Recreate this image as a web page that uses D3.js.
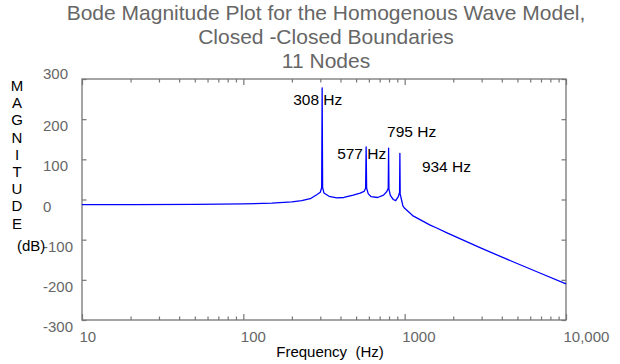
<!DOCTYPE html>
<html>
<head>
<meta charset="utf-8">
<script src="https://cdn.jsdelivr.net/npm/d3@7"></script>
<style>
  body { margin: 0; background: #fff; }
  text { font-family: "Liberation Sans", Arial, sans-serif; }
</style>
</head>
<body>
<svg id="chart"></svg>
<script>
// frequency response (Hz, dB)
const freqHz = [10, 20, 50, 100, 150, 200, 230, 260, 285, 300, 306, 308, 310, 316,
  340, 380, 420, 480, 530, 560, 573, 577, 581, 595, 620, 680, 740, 775, 791, 795, 799,
  815, 850, 880, 915, 930, 934, 938, 955, 975, 1000, 1120, 1430, 1580, 1830, 2930, 4690, 6890, 10000]
const magDb = [-13, -13, -12, -11, -9, -6, -3, 2, 12, 18, 30, 278, 30, 16,
  8, 4, 5, 11, 16, 20, 28, 131, 28, 14, 7, 5, 11, 20, 28, 128, 26,
  10, 0, -3, 8, 18, 115, 14, 0, -16, -22, -40, -63, -71, -83, -120, -155, -183, -210]

const peakFreqs = [308, 577, 795, 934]
const peakLabels = ['308 Hz', '577 Hz', '795 Hz', '934 Hz']

const xTicks = [10, 100, 1000, 10000]
const xTickLabels = ['10', '100', '1000', '10,000']
const yTicks = [300, 200, 100, 0, -100, -200, -300]

const titleLines = ['Bode Magnitude Plot for the Homogenous Wave Model,', 'Closed -Closed Boundaries', '11 Nodes']
const yLetters = 'MAGNITUDE'.split('')

const width = 620, height = 364
const margin = {top: 79, right: 54, bottom: 44, left: 82}

const svg = d3.select('#chart')
    .attr('width', width)
    .attr('height', height)

const x = d3.scaleLog()
    .domain([10, 10000])
    .range([margin.left, width - margin.right])

const y = d3.scaleLinear()
    .domain([-300, 300])
    .range([height - margin.bottom, margin.top])

const frameColor = '#767676'
const labelColor = '#666666'

// frame
svg.append('rect')
    .attr('x', x(10))
    .attr('y', y(300))
    .attr('width', x(10000) - x(10))
    .attr('height', y(-300) - y(300))
    .attr('fill', 'none')
    .attr('stroke', frameColor)
    .attr('stroke-width', 1.3)

// minor log ticks (top and bottom), all inside
const minorTicks = []
for (let dec = 10; dec < 10000; dec *= 10) {
    for (let k = 2; k <= 9; k++) minorTicks.push(dec * k)
}

function styleAxis(g) {
    g.select('.domain').remove()
    g.selectAll('.tick line').attr('stroke', frameColor).attr('stroke-width', 1.2)
}

svg.append('g')
    .attr('transform', `translate(0,${y(300)})`)
    .call(d3.axisTop(x).tickValues(minorTicks).tickSize(-3.5).tickFormat(''))
    .call(styleAxis)
svg.append('g')
    .attr('transform', `translate(0,${y(300)})`)
    .call(d3.axisTop(x).tickValues(xTicks).tickSize(-6).tickFormat(''))
    .call(styleAxis)
svg.append('g')
    .attr('transform', `translate(0,${y(-300)})`)
    .call(d3.axisBottom(x).tickValues(minorTicks).tickSize(-3.5).tickFormat(''))
    .call(styleAxis)

const xAxisG = svg.append('g')
    .attr('transform', `translate(0,${y(-300)})`)
    .call(d3.axisBottom(x).tickValues(xTicks).tickSize(-6).tickFormat((d, i) => xTickLabels[i]))
    .call(styleAxis)
xAxisG.selectAll('text')
    .attr('x', -3)
    .attr('y', 22)
    .attr('dy', 0)
    .attr('text-anchor', 'start')
    .attr('fill', labelColor)
    .style('font-size', '15px')
    .style('font-family', '"Liberation Sans", Arial, sans-serif')

// y axis, ticks inside; labels sit oddly below their ticks like the original
const yAxisG = svg.append('g')
    .attr('transform', `translate(${x(10)},0)`)
    .call(d3.axisLeft(y).tickValues(yTicks).tickSize(-4.5).tickFormat(d => String(d)))
    .call(styleAxis)
yAxisG.selectAll('text')
    .attr('x', 43 - x(10))
    .attr('dy', d => d === 300 ? -1 : 11.5)
    .attr('text-anchor', 'start')
    .attr('fill', labelColor)
    .style('font-size', '15px')
    .style('font-family', '"Liberation Sans", Arial, sans-serif')

svg.append('g')
    .attr('transform', `translate(${x(10000)},0)`)
    .call(d3.axisRight(y).tickValues(yTicks).tickSize(-4.5).tickFormat(''))
    .call(styleAxis)

// response curve
const points = freqHz.map((f, i) => [f, magDb[i]])
const line = d3.line()
    .x(d => x(d[0]))
    .y(d => y(d[1]))

svg.append('path')
    .datum(points)
    .attr('fill', 'none')
    .attr('stroke', '#0000ff')
    .attr('stroke-width', 1.3)
    .attr('stroke-linejoin', 'round')
    .attr('d', line)

// peak annotations
const labelOffsets = [[-29, 105], [-29, 159], [-1.5, 137], [22, 172]]
svg.selectAll('.peak-label')
    .data(peakFreqs)
    .join('text')
    .attr('class', 'peak-label')
    .attr('x', (d, i) => x(d) + labelOffsets[i][0])
    .attr('y', (d, i) => labelOffsets[i][1])
    .attr('fill', '#000')
    .style('font-size', '15.5px')
    .text((d, i) => peakLabels[i])

// title
svg.selectAll('.title')
    .data(titleLines)
    .join('text')
    .attr('class', 'title')
    .attr('x', 326)
    .attr('y', (d, i) => 20 + i * 24)
    .attr('text-anchor', 'middle')
    .attr('fill', labelColor)
    .style('font-size', '21px')
    .text(d => d)

// vertical axis title
svg.selectAll('.ylet')
    .data(yLetters)
    .join('text')
    .attr('class', 'ylet')
    .attr('x', 17)
    .attr('y', (d, i) => 91 + i * 17.2)
    .attr('text-anchor', 'middle')
    .attr('fill', '#000')
    .style('font-size', '15px')
    .text(d => d)

svg.append('text')
    .attr('x', 17)
    .attr('y', 250.5)
    .attr('fill', '#000')
    .style('font-size', '15px')
    .text('(dB)')

svg.append('text')
    .attr('x', 330)
    .attr('y', 357)
    .attr('text-anchor', 'middle')
    .attr('fill', '#000')
    .style('font-size', '15px')
    .style('white-space', 'pre')
    .text('Frequency  (Hz)')
</script>
</body>
</html>
